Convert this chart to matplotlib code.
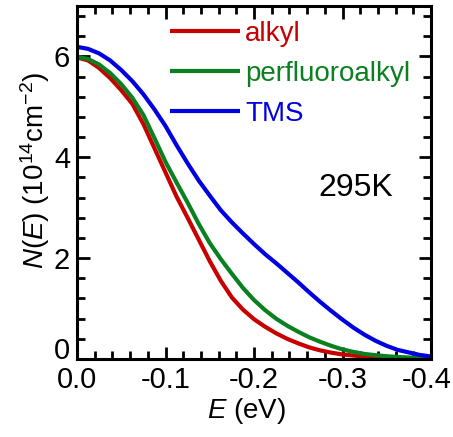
import matplotlib
matplotlib.use("Agg")
import matplotlib.pyplot as plt
from matplotlib.ticker import MultipleLocator, FormatStrFormatter
from matplotlib.transforms import ScaledTranslation

plt.rcParams['font.family'] = ['Liberation Sans', 'DejaVu Sans']
plt.rcParams['mathtext.fontset'] = 'custom'
plt.rcParams['mathtext.rm'] = 'Liberation Sans'
plt.rcParams['mathtext.it'] = 'Liberation Sans:italic'
plt.rcParams['axes.unicode_minus'] = False

# Data (energy in eV, N(E) in 1e14 cm^-2)
energy = [0.0, -0.0125, -0.025, -0.0375, -0.05, -0.0625, -0.075, -0.0875,
          -0.1, -0.1125, -0.125, -0.1375, -0.15, -0.1625, -0.175, -0.1875,
          -0.2, -0.2125, -0.225, -0.2375, -0.25, -0.2625, -0.275, -0.2875,
          -0.3, -0.3125, -0.325, -0.3375, -0.35, -0.3625, -0.375, -0.3875,
          -0.4]
alkyl = [5.98, 5.92, 5.77, 5.57, 5.33, 5.06, 4.66, 4.18,
         3.70, 3.22, 2.80, 2.37, 1.94, 1.55, 1.22, 0.98,
         0.79, 0.64, 0.51, 0.40, 0.31, 0.23, 0.17, 0.125,
         0.09, 0.068, 0.05, 0.038, 0.03, 0.022, 0.015, 0.012,
         0.01]
perfluoroalkyl = [5.99, 5.95, 5.84, 5.67, 5.45, 5.18, 4.84, 4.38,
                  3.91, 3.50, 3.10, 2.68, 2.30, 1.98, 1.69, 1.41,
                  1.17, 0.97, 0.80, 0.66, 0.54, 0.43, 0.34, 0.26,
                  0.19, 0.14, 0.10, 0.075, 0.055, 0.04, 0.03, 0.025,
                  0.02]
tms = [6.19, 6.15, 6.06, 5.92, 5.73, 5.51, 5.25, 4.95,
       4.62, 4.24, 3.88, 3.54, 3.24, 2.95, 2.71, 2.49,
       2.28, 2.08, 1.90, 1.71, 1.52, 1.32, 1.13, 0.95,
       0.78, 0.62, 0.48, 0.36, 0.26, 0.18, 0.13, 0.08,
       0.05]

series_names = ['alkyl', 'perfluoroalkyl', 'TMS']
series_values = [alkyl, perfluoroalkyl, tms]
series_colors = ['#c80000', '#0a8020', '#0000e0']

x_ticks = [0.0, -0.1, -0.2, -0.3, -0.4]
y_ticks = [0, 2, 4, 6]

fig = plt.figure(figsize=(4.53, 4.37), dpi=100)
ax = fig.add_axes([77/453, 78/437, 354/453, 353/437])

handles = []
for name, vals, col in zip(series_names, series_values, series_colors):
    h, = ax.plot(energy, vals, color=col, lw=3, label=name,
                 solid_capstyle='butt', solid_joinstyle='round')
    handles.append(h)

ax.set_xlim(0, -0.4)
ax.set_ylim(0, 7)
ax.set_xticks(x_ticks)
ax.set_yticks(y_ticks)
ax.xaxis.set_major_formatter(FormatStrFormatter('%.1f'))
ax.xaxis.set_minor_locator(MultipleLocator(0.02))
ax.yaxis.set_minor_locator(MultipleLocator(0.4))

for s in ax.spines.values():
    s.set_linewidth(2.2)
ax.tick_params(which='both', direction='in', top=True, right=True,
               labelsize=21, width=2)
ax.tick_params(which='major', length=9, pad=5)
ax.tick_params(which='minor', length=5.5)
ax.get_yticklabels()[0].set_verticalalignment('baseline')
last = ax.get_xticklabels()[-1]
last.set_transform(last.get_transform() +
                   ScaledTranslation(-4/100, 0, fig.dpi_scale_trans))

leg = ax.legend(handles=handles, loc='upper left',
                bbox_to_anchor=(0.263, 0.958), frameon=False,
                fontsize=20, handlelength=2.5, handletextpad=0.2,
                labelspacing=0.5, borderpad=0, borderaxespad=0,
                labelcolor='linecolor')

ax.text(-0.315, 3.39, '295K', fontsize=23, ha='center', va='center')

fig.text(35/453, 0.611, r'$N$($E$) (10$^{14}$cm$^{-2}$)', rotation=90,
         fontsize=20, ha='center', va='center')
fig.text(247/453, 0.06, r'$E$ (eV)', fontsize=20, ha='center', va='center')

fig.savefig('out.png', dpi=100)
